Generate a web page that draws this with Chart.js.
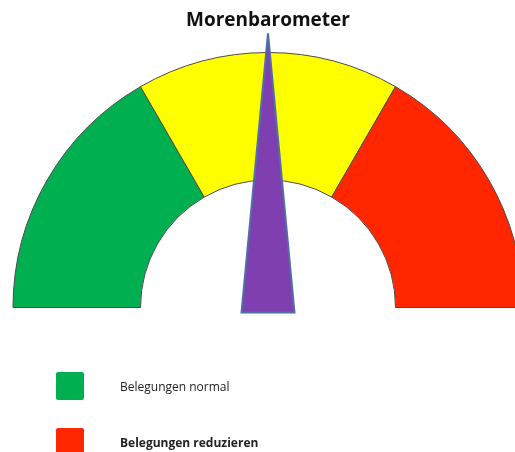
<!DOCTYPE html>
<html>
<head>
<meta charset="utf-8">
<script src="https://cdn.jsdelivr.net/npm/chart.js@4.4.1/dist/chart.umd.min.js"></script>
<style>
  html, body { margin: 0; padding: 0; background: #fff; overflow: hidden; width: 515px; height: 452px; }
  #wrap { position: absolute; left: 0; top: 0; width: 540px; height: 452px; }
  #title { position: absolute; left: 0; width: 536px; top: 6px; text-align: center;
           font-family: "Open Sans", sans-serif; font-weight: 700; font-size: 19px; color: #111; }
  .leg { position: absolute; left: 56px; font-family: "Open Sans", sans-serif; font-size: 12px; color: #222; }
  .leg span.box { position: absolute; left: 0; width: 28px; height: 28px; border-radius: 2px; }
  .leg span.txt { position: absolute; left: 64px; white-space: nowrap; }
</style>
</head>
<body>
<div id="wrap"><canvas id="gauge"></canvas></div>
<div id="title"></div>
<div id="legend"></div>
<script>
document.addEventListener('DOMContentLoaded', function() {
    // gauge data
    const chartTitle = 'Morenbarometer';
    const segmentLabels = ['Belegungen normal', '', 'Belegungen reduzieren'];
    const segmentValues = [1, 1, 1];
    const segmentColors = ['#00B050', '#FFFF00', '#FF2600'];
    const needleValue = 1.5; // on 0..sum(segmentValues)

    document.getElementById('title').textContent = chartTitle;

    // legend (only the labelled segments)
    const legend = document.getElementById('legend');
    let row = 0;
    segmentLabels.forEach(function(label, i) {
        if (!label) return;
        const item = document.createElement('div');
        item.className = 'leg';
        item.style.top = (372 + row * 56) + 'px';
        item.innerHTML = '<span class="box"></span><span class="txt"></span>';
        item.querySelector('.box').style.background = segmentColors[i];
        const txt = item.querySelector('.txt');
        txt.textContent = label;
        txt.style.top = '6px';
        if (row > 0) txt.style.fontWeight = '700';
        legend.appendChild(item);
        row++;
    });

    // needle drawn on top of the arcs
    const needlePlugin = {
        id: 'needle',
        afterDatasetsDraw(chart) {
            const arc = chart.getDatasetMeta(0).data[0];
            if (!arc) return;
            const total = segmentValues.reduce((a, b) => a + b, 0);
            const angle = Math.PI + (needleValue / total) * Math.PI;
            const len = arc.outerRadius * 1.075;
            const half = 26.5;
            const back = 5;
            const ctx = chart.ctx;
            ctx.save();
            ctx.translate(arc.x, arc.y);
            ctx.rotate(angle);
            ctx.beginPath();
            ctx.moveTo(len, 0);
            ctx.lineTo(-back, -half);
            ctx.lineTo(-back, half);
            ctx.closePath();
            ctx.fillStyle = '#7F3FB0';
            ctx.fill();
            ctx.lineWidth = 2;
            ctx.strokeStyle = '#4F6FA8';
            ctx.stroke();
            ctx.restore();
        }
    };

    const ctxGauge = document.getElementById('gauge').getContext('2d');
    new Chart(ctxGauge, {
        type: 'doughnut',
        data: {
            labels: segmentLabels,
            datasets: [{
                data: segmentValues,
                backgroundColor: segmentColors,
                borderColor: '#4a4a4a',
                borderWidth: 1
            }]
        },
        options: {
            responsive: true,
            maintainAspectRatio: false,
            animation: false,
            rotation: -90,
            circumference: 180,
            cutout: '50%',
            layout: { padding: { left: 12, right: 16, top: 52, bottom: 144 } },
            plugins: {
                legend: { display: false },
                tooltip: { enabled: false }
            }
        },
        plugins: [needlePlugin]
    });
});
</script>
</body>
</html>
